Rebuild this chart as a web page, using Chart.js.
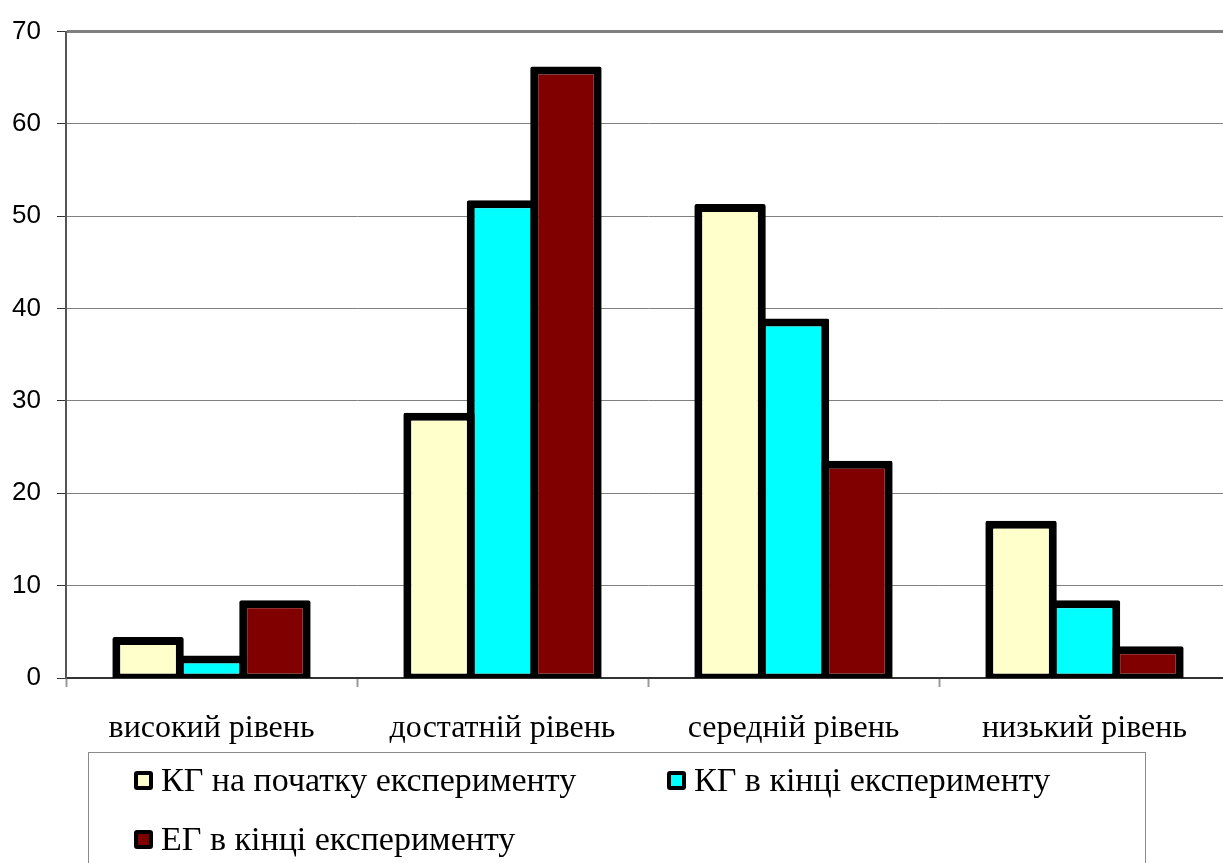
<!DOCTYPE html>
<html lang="uk">
<head>
<meta charset="utf-8">
<title>Рівні сформованості</title>
<script src="https://cdn.jsdelivr.net/npm/chart.js@4/dist/chart.umd.min.js"></script>
<style>
  html, body { margin: 0; padding: 0; background: #fff; overflow: hidden; }
  #wrap { position: relative; width: 1223px; height: 863px; overflow: hidden; }
  #c { position: absolute; left: 0; top: 0; }
  #legend {
    position: absolute; left: 88px; top: 752px; width: 1058px; height: 140px;
    border: 1px solid #8a8a8a; box-sizing: border-box;
    font-family: "Liberation Serif", "Times New Roman", serif; font-size: 34px; color: #000;
  }
  .item { position: absolute; display: flex; align-items: center; white-space: nowrap; line-height: 1; }
  .mark {
    width: 19px; height: 19px; box-sizing: border-box; border: 4px solid #000;
    border-radius: 3px; margin-right: 8px; flex: none;
  }
</style>
</head>
<body>
<div id="wrap">
  <canvas id="c" width="1232" height="863"></canvas>
  <div id="legend"></div>
</div>
<script>
// Categories (levels) and percentages per group
const categories = ['високий рівень', 'достатній рівень', 'середній рівень', 'низький рівень'];
const seriesNames = ['КГ на початку експерименту', 'КГ в кінці експерименту', 'ЕГ в кінці експерименту'];
const kgStart = [4, 28.3, 50.9, 16.6];
const kgEnd = [2, 51.3, 38.5, 8];
const egEnd = [8, 65.8, 23.1, 3];
const yTicks = [0, 10, 20, 30, 40, 50, 60, 70];

const fills = ['#FFFFCC', '#00FFFF', '#800000'];
const seriesValues = [kgStart, kgEnd, egEnd];
const BORDER = 8;

const datasets = seriesValues.map((vals, i) => ({
  label: seriesNames[i],
  data: vals,
  backgroundColor: fills[i],
  borderColor: '#000',
  borderWidth: BORDER,
  borderSkipped: false,
  borderRadius: 2,
  barPercentage: 1.0,
  categoryPercentage: 0.654
}));

// Centre the thick outline on the bar's edges (half outside, half inside),
// so the value line runs through the middle of the stroke.
const centredOutline = {
  id: 'centredOutline',
  afterDatasetsUpdate(chart) {
    const half = BORDER / 2;
    chart.data.datasets.forEach((ds, i) => {
      chart.getDatasetMeta(i).data.forEach(el => {
        el.y -= half;
        el.base += half;
        el.width += BORDER;
      });
    });
  }
};

new Chart(document.getElementById('c'), {
  type: 'bar',
  data: { labels: categories, datasets },
  plugins: [centredOutline],
  options: {
    responsive: false,
    animation: false,
    devicePixelRatio: 1,
    layout: { padding: { top: 28, right: 2, left: 0, bottom: 0 } },
    plugins: { legend: { display: false }, tooltip: { enabled: false } },
    scales: {
      x: {
        offset: true,
        afterFit: s => { s.height = 185; },
        grid: {
          offset: true, drawOnChartArea: false,
          tickLength: 9, tickColor: '#9a9a9a', tickWidth: 2
        },
        border: { color: '#333', width: 2 },
        ticks: {
          color: '#000', padding: 22,
          font: { family: '"Liberation Serif", "Times New Roman", serif', size: 32 }
        }
      },
      y: {
        min: 0, max: 70,
        afterFit: s => { s.width = 66; },
        afterBuildTicks: s => { s.ticks = yTicks.map(v => ({ value: v })); },
        grid: {
          color: '#808080',
          lineWidth: ctx => (ctx.tick && ctx.tick.value === 70 ? 3 : 1),
          tickLength: 9, tickColor: '#333', tickWidth: 1
        },
        border: { color: '#555', width: 2 },
        ticks: {
          color: '#000', padding: 16,
          font: { family: '"Liberation Sans", Arial, sans-serif', size: 26 }
        }
      }
    }
  }
});

// Legend box below the plot
const legendPos = [[45, 27], [578, 27], [45, 86]];
const legend = document.getElementById('legend');
seriesNames.forEach((name, i) => {
  const item = document.createElement('div');
  item.className = 'item';
  item.style.left = legendPos[i][0] + 'px';
  item.style.top = (legendPos[i][1] - 18) + 'px';
  item.style.height = '36px';
  const mark = document.createElement('span');
  mark.className = 'mark';
  mark.style.background = fills[i];
  const txt = document.createElement('span');
  txt.textContent = name;
  item.appendChild(mark);
  item.appendChild(txt);
  legend.appendChild(item);
});
</script>
</body>
</html>
